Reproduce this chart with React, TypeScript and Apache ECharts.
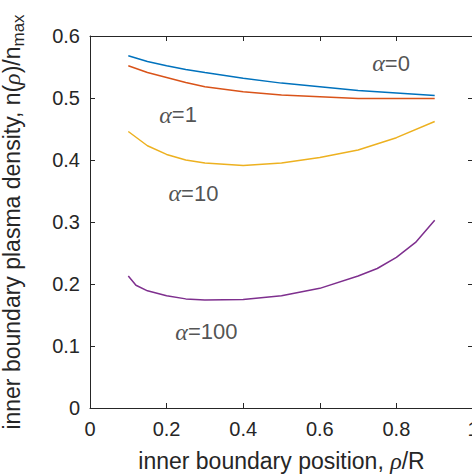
import React, { useEffect, useRef } from "react";
import * as echarts from "echarts";

// Sampled inner-boundary positions (rho/R)
const rhoCoarse = [0.1, 0.15, 0.2, 0.25, 0.3, 0.4, 0.5, 0.6, 0.7, 0.8, 0.9];
const rhoFine = [0.1, 0.12, 0.15, 0.2, 0.25, 0.3, 0.4, 0.5, 0.6, 0.7, 0.75, 0.8, 0.85, 0.9];

// Normalised inner-boundary density n(rho)/n_max for each alpha
const densAlpha0 = [0.568, 0.559, 0.552, 0.546, 0.541, 0.532, 0.524, 0.518, 0.512, 0.508, 0.504];
const densAlpha1 = [0.552, 0.541, 0.533, 0.525, 0.518, 0.510, 0.505, 0.502, 0.499, 0.499, 0.499];
const densAlpha10 = [0.446, 0.423, 0.409, 0.400, 0.395, 0.391, 0.395, 0.404, 0.416, 0.436, 0.462];
const densAlpha100 = [0.213, 0.198, 0.189, 0.181, 0.176, 0.174, 0.175, 0.181, 0.193, 0.213, 0.225, 0.243, 0.267, 0.303];

// Curve annotations, in data coordinates
const alphaLabels = ["0", "1", "10", "100"];
const alphaLabelX = [0.786, 0.23, 0.27, 0.304];
const alphaLabelY = [0.556, 0.4726, 0.3463, 0.1231];

const seriesColors = ["#0072BD", "#D95319", "#EDB120", "#7E2F8E"];

const xTicks = { min: 0, max: 1, interval: 0.2 };
const yTicks = { min: 0, max: 0.6, interval: 0.1 };

const AXIS_COLOR = "#262626";
const SANS = "'Liberation Sans', Arial, Helvetica, sans-serif";
const SERIF = "'Liberation Serif', 'Times New Roman', serif";

const zip = (xs: number[], ys: number[]) => xs.map((x, i) => [x, ys[i]]);

export default function App() {
  const ref = useRef<HTMLDivElement>(null);

  useEffect(() => {
    if (!ref.current) return;
    const chart = echarts.init(ref.current, undefined, { renderer: "svg" });

    const axisCommon = {
      type: "value" as const,
      splitLine: { show: false },
      axisLine: { show: true, onZero: false, lineStyle: { color: AXIS_COLOR, width: 1 } },
      axisTick: { show: true, inside: true, length: 5, lineStyle: { color: AXIS_COLOR, width: 1 } },
    };

    const curves = [densAlpha0, densAlpha1, densAlpha10, densAlpha100].map((d, i) => ({
      type: "line" as const,
      data: zip(i === 3 ? rhoFine : rhoCoarse, d),
      showSymbol: false,
      symbol: "none",
      lineStyle: { color: seriesColors[i], width: 1.5 },
      itemStyle: { color: seriesColors[i] },
      xAxisIndex: 0,
      yAxisIndex: 0,
      silent: true,
    }));

    const labels = {
      type: "scatter" as const,
      xAxisIndex: 0,
      yAxisIndex: 0,
      symbolSize: 0,
      silent: true,
      data: alphaLabels.map((t, i) => ({ value: [alphaLabelX[i], alphaLabelY[i]], name: t })),
      label: {
        show: true,
        position: "inside",
        formatter: (p: any) => `{a|α}{t|=${p.name}}`,
        rich: {
          a: { fontFamily: SERIF, fontStyle: "italic", fontSize: 24, color: AXIS_COLOR },
          t: { fontFamily: SANS, fontSize: 22, color: AXIS_COLOR },
        },
      },
    };

    chart.setOption({
      animation: false,
      backgroundColor: "#ffffff",
      grid: {
        left: 90,
        top: 36,
        width: 383,
        height: 372,
        containLabel: false,
        outerBoundsMode: "none",
      },
      xAxis: [
        {
          ...axisCommon,
          ...xTicks,
          position: "bottom",
          axisLabel: { fontSize: 20, fontFamily: SANS, color: AXIS_COLOR, margin: 11 },
          name: "{t|inner boundary position, }{g|ρ}{t|/R}",
          nameLocation: "middle",
          nameGap: 41,
          nameTextStyle: {
            rich: {
              t: { fontFamily: SANS, fontSize: 23, color: AXIS_COLOR },
              g: { fontFamily: SERIF, fontStyle: "italic", fontSize: 24, color: AXIS_COLOR },
            },
          },
        },
        {
          ...axisCommon,
          ...xTicks,
          position: "top",
          axisLabel: { show: false },
        },
      ],
      yAxis: [
        {
          ...axisCommon,
          ...yTicks,
          position: "left",
          axisLabel: { fontSize: 20, fontFamily: SANS, color: AXIS_COLOR, margin: 10 },
          name: "{t|inner boundary plasma density, n(}{g|ρ}{t|)/n}{s|max}",
          nameLocation: "middle",
          nameGap: 63,
          nameTextStyle: {
            rich: {
              t: { fontFamily: SANS, fontSize: 23, color: AXIS_COLOR, lineHeight: 30 },
              g: { fontFamily: SERIF, fontStyle: "italic", fontSize: 24, color: AXIS_COLOR, lineHeight: 30 },
              s: { fontFamily: SANS, fontSize: 17, color: AXIS_COLOR, lineHeight: 16, verticalAlign: "bottom" },
            },
          },
        },
        {
          ...axisCommon,
          ...yTicks,
          position: "right",
          axisLabel: { show: false },
        },
      ],
      series: [...curves, labels],
    });

    return () => chart.dispose();
  }, []);

  return (
    <div
      ref={ref}
      style={{ position: "absolute", left: 0, top: 0, width: 472, height: 474, background: "#fff" }}
    />
  );
}
